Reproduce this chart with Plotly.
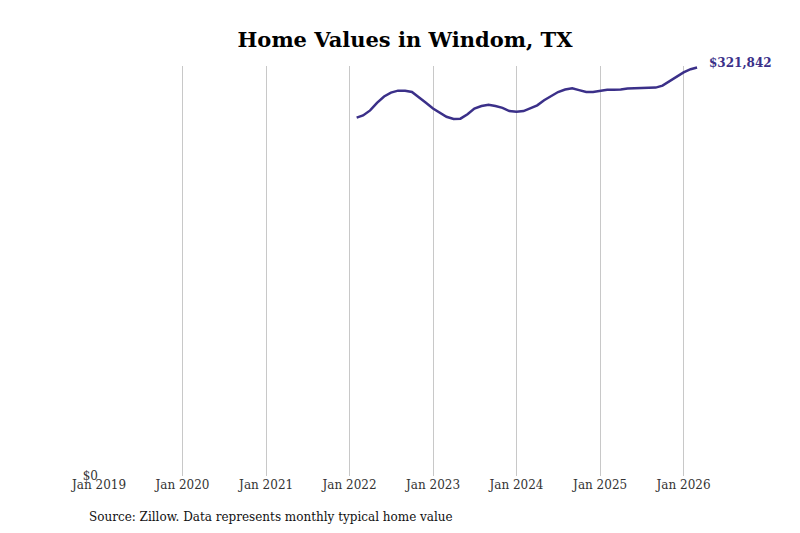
import plotly.graph_objects as go
import pandas as pd

# monthly typical home value, Feb 2022 - Mar 2026
dates = pd.date_range("2022-02-01", "2026-03-01", freq="MS")
values = [
    282300, 284000, 288000, 294000, 299000, 302000, 303600, 303500, 302500, 298500, 294000,
    289500, 286000, 283000, 281300, 281500, 285000, 289500, 291500, 292500, 291500, 290000, 287500,
    287000, 287500, 289500, 292000, 296000, 299500, 302500, 304500, 305500, 304000, 302500, 302500,
    303500, 304300, 304300, 304500, 305300, 305500, 305600, 305600, 306000, 307500, 311000, 314500,
    318000, 320500, 321842,
]
tick_vals = ["%d-01-01" % y for y in range(2019, 2027)]
tick_text = ["Jan %d" % y for y in range(2019, 2027)]

color = "#3b3089"
fig = go.Figure(go.Scatter(x=dates, y=values, mode="lines",
                           line=dict(color=color, width=2.5), hoverinfo="skip"))

fig.add_annotation(x=dates[-1], y=values[-1], text="<b>$%s</b>" % format(values[-1], ","),
                   showarrow=False, xanchor="left", xshift=10, yshift=4,
                   font=dict(family="DejaVu Serif", size=12, color=color))
fig.add_annotation(x=0, y=-0.1, xref="paper", yref="paper", xshift=-12,
                   text="Source: Zillow. Data represents monthly typical home value",
                   showarrow=False, xanchor="left", yanchor="middle",
                   font=dict(family="DejaVu Serif", size=12, color="#111"))

fig.update_layout(
    width=800, height=533,
    margin=dict(l=91, r=97, t=58, b=65),
    paper_bgcolor="white", plot_bgcolor="white",
    showlegend=False,
    title=dict(text="<b>Home Values in Windom, TX</b>", x=0.5, xref="paper", y=0.955,
               font=dict(family="DejaVu Serif", size=21, color="black")),
    xaxis=dict(range=["2019-01-01", "2026-05-01"], tickvals=tick_vals, ticktext=tick_text,
               showgrid=True, gridcolor="#c8c8c8", gridwidth=1, zeroline=False,
               showline=False, ticks="", tickfont=dict(family="DejaVu Serif", size=12, color="#333")),
    yaxis=dict(range=[0, 323000], tickvals=[0], ticktext=["$0"], showgrid=False,
               zeroline=False, showline=False, ticks="",
               tickfont=dict(family="DejaVu Serif", size=12, color="#333")),
)

fig.write_html("out.html")
